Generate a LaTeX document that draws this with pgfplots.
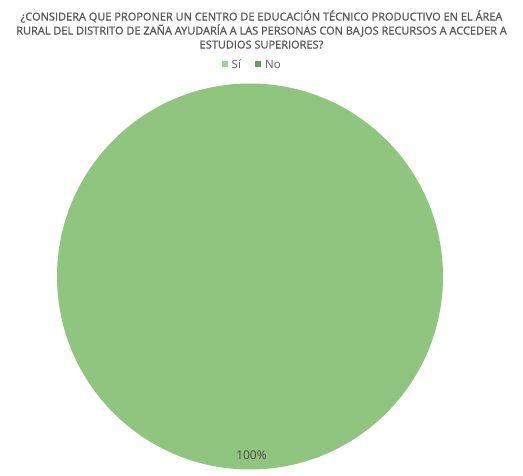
\documentclass[border=0pt]{standalone}
\usepackage{pgfplots}
\pgfplotsset{compat=1.18}
\usepackage{pgfplotstable}
\usepackage{fontspec}
\setmainfont{Open Sans}
\newfontfamily\titlefont[FakeBold=1.2]{Open Sans}
\definecolor{pieA}{HTML}{8FC57E}
\definecolor{legA}{HTML}{A5CF96}
\definecolor{legB}{HTML}{5FA450}
\definecolor{titlegray}{HTML}{595959}
\pgfplotstableread{
cat value
Si 100
No 0
}\piedata
\pgfplotstablegetelem{0}{value}\of\piedata
\let\valA\pgfplotsretval
\begin{document}
\begin{tikzpicture}
\begin{axis}[
  scale only axis, width=523pt, height=475pt,
  xmin=0, xmax=523, ymin=0, ymax=475,
  hide axis, clip=false
]
\path (rel axis cs:0,0) rectangle (rel axis cs:1,1);
\fill[pieA] (axis cs:250,198.5) circle[radius=193];
\node[font=\fontsize{12}{12}\selectfont, text=black!70] at (axis cs:251.5,20) {\valA\%};
\node[align=center, font=\titlefont\fontsize{11}{14}\selectfont, text=titlegray, inner sep=0pt] at (axis cs:261.5,445.5) {¿CONSIDERA QUE PROPONER UN CENTRO DE EDUCACIÓN TÉCNICO PRODUCTIVO EN EL ÁREA\\RURAL DEL DISTRITO DE ZAÑA AYUDARÍA A LAS PERSONAS CON BAJOS RECURSOS A ACCEDER A\\ESTUDIOS SUPERIORES?};
\fill[legA] (axis cs:221.5,408) rectangle (axis cs:227.5,414);
\node[anchor=west, font=\fontsize{11.5}{12}\selectfont, text=titlegray, inner sep=0pt] at (axis cs:231.5,411) {Sí};
\fill[legB] (axis cs:255,408) rectangle (axis cs:261,414);
\node[anchor=west, font=\fontsize{11.5}{12}\selectfont, text=titlegray, inner sep=0pt] at (axis cs:265,411) {No};
\end{axis}
\end{tikzpicture}
\end{document}
